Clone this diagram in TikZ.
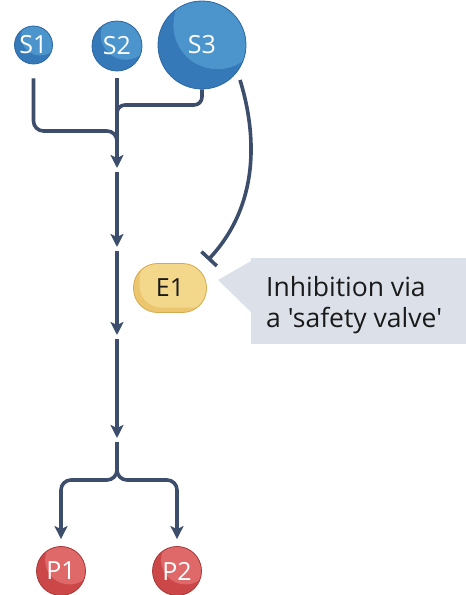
\documentclass[tikz,border=0pt]{standalone}
\usepackage{fontspec}
\setmainfont{Open Sans}[Ligatures=TeXOff]
\usetikzlibrary{arrows.meta,calc}

\definecolor{flow}{HTML}{3C4E6C}
\definecolor{subdark}{HTML}{3679B8}
\definecolor{sublight}{HTML}{4C95CC}
\definecolor{subedge}{HTML}{2D67A3}
\definecolor{proddark}{HTML}{CC4848}
\definecolor{prodlight}{HTML}{DF6868}
\definecolor{prodedge}{HTML}{A83838}
\definecolor{enzdark}{HTML}{EBC66E}
\definecolor{enzlight}{HTML}{F3D88C}
\definecolor{enzedge}{HTML}{D6AA50}
\definecolor{calloutbg}{HTML}{DCE0E9}
\definecolor{ink}{HTML}{1A1A1A}

\tikzset{
  metab/.style 2 args={circle, inner sep=0pt, minimum size=#1,
    fill=#2dark, draw=#2edge, line width=0.8pt, text=white,
    font=\fontsize{25}{25}\selectfont,
    path picture={\fill[#2light] ($(path picture bounding box.center)+(0.175*#1,0.225*#1)$) circle (0.5*#1);}},
  enzyme/.style={rectangle, rounded corners=24pt, minimum width=73pt, minimum height=49pt,
    inner sep=0pt, fill=enzdark, draw=enzedge, line width=0.8pt, text=ink,
    font=\fontsize{25}{25}\selectfont,
    path picture={\fill[enzlight, rounded corners=22pt]
      ($(path picture bounding box.south west)+(6pt,5pt)$) rectangle
      ($(path picture bounding box.north east)+(8pt,6pt)$);}},
  flowline/.style={draw=flow, line width=3.6pt},
  tip/.tip={Stealth[length=13pt,width=13pt,inset=3pt]},
}

\begin{document}
\begin{tikzpicture}[x=1pt,y=-1pt]
\useasboundingbox (0,0) rectangle (466,595);

% metabolites and enzyme
\node[metab={38pt}{sub}] (S1) at (33.5,45) {S1};
\node[metab={50pt}{sub}] (S2) at (117,46) {S2};
\node[metab={88pt}{sub}] (S3) at (202,45) {S3};
\node[enzyme] (E1) at (170,288) {E1};
\node[metab={49pt}{prod}] (P1) at (61,571) {P1};
\node[metab={49pt}{prod}] (P2) at (177,571) {P2};

% callout box with pointer
\node[fill=calloutbg, minimum width=215pt, minimum height=86pt, inner sep=0pt,
      anchor=north west] (note) at (251,258) {};
\fill[calloutbg] (218,280) -- ($(note.north west)+(0,3)$) -- ($(note.north west)+(0,54)$) -- cycle;
% base anchor of a two-line node sits on the last line
\node[anchor=base west, inner sep=0pt, align=left, text=ink,
      font=\fontsize{26.5}{31}\selectfont] (notetext) at (266,327)
      {Inhibition via\\a 'safety valve'};

% junction and segment end points
\coordinate (s1out) at ($(S1.south)+(0,14)$);
\coordinate (s2out) at ($(S2.south)+(0,7)$);
\coordinate (join1) at (117,131);
\coordinate (join3) at (117,105);
\coordinate (a1) at (117,168);
\coordinate (b2) at (117,172);
\coordinate (a2) at (117,247);
\coordinate (b3) at (117,251);
\coordinate (a3) at (117,335);
\coordinate (b4) at (117,339);
\coordinate (a4) at (117,438);
\coordinate (b5) at (117,442);
\coordinate (split) at (117,480);
\coordinate (inhstart) at ($(S3.center)+(38,35)$);
\coordinate (inhend) at ($(E1.north east)+(1,-3)$);

% converging branches
\draw[flowline, rounded corners=10pt] (s1out) |- (join1) -- ++(0,20);
\draw[flowline, rounded corners=8pt] (S3.south) |- (join3) -- ++(0,20);
\draw[flowline, -tip] (s2out) -- (a1);

% main pathway
\draw[flowline, -tip] (b2) -- (a2);
\draw[flowline, -tip] (b3) -- (a3);
\draw[flowline, -tip] (b4) -- (a4);

% branching to products
\draw[flowline, rounded corners=10pt, -tip, shorten >=7pt] (b5) -- (split) -| (P1.north);
\draw[flowline, rounded corners=10pt, -tip, shorten >=7pt] (b5) -- (split) -| (P2.north);

% feedback inhibition by S3
\draw[flowline, -{Bar[width=21pt,line width=3.6pt]}]
  (inhstart) .. controls (254,125) and (264,200) .. (inhend);
\end{tikzpicture}
\end{document}
